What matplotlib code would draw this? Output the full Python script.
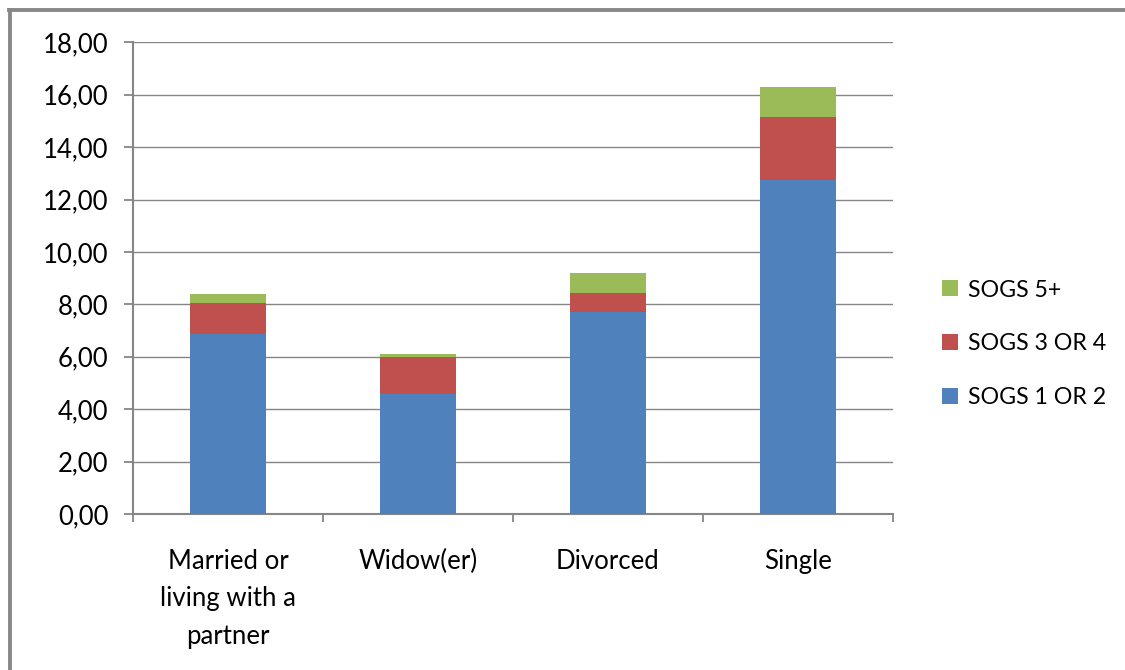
import matplotlib
matplotlib.use("Agg")
import matplotlib.pyplot as plt
from matplotlib.lines import Line2D
from matplotlib.patches import Patch
import numpy as np

categories = ["Married or\nliving with a\npartner", "Widow(er)", "Divorced", "Single"]
sogs_1_2 = [6.88, 4.59, 7.72, 12.76]
sogs_3_4 = [1.17, 1.41, 0.72, 2.39]
sogs_5p = [0.35, 0.11, 0.76, 1.15]
series_names = ["SOGS 1 OR 2", "SOGS 3 OR 4", "SOGS 5+"]
colors = ["#4F81BD", "#C0504D", "#9BBB59"]
yticks = [0, 2, 4, 6, 8, 10, 12, 14, 16, 18]

plt.rcParams['font.family'] = ['Lato', 'DejaVu Sans']
W, H = 1125, 670
fig = plt.figure(figsize=(W / 100, H / 100), dpi=100)
ax = fig.add_axes([133 / W, 1 - 514 / H, (893 - 133) / W, (514 - 42.4) / H])

x = np.arange(len(categories))
bottom = np.zeros(len(categories))
for vals, name, c in zip([sogs_1_2, sogs_3_4, sogs_5p], series_names, colors):
    ax.bar(x, vals, width=0.405, bottom=bottom, color=c, label=name, zorder=3)
    bottom += np.array(vals)

ax.set_xlim(-0.5, len(categories) - 0.5)
ax.set_ylim(0, 18)
ax.set_yticks(yticks)
ax.set_yticklabels([f"{v:.2f}".replace(".", ",") for v in yticks])
ax.yaxis.grid(True, color="#868686", linewidth=1.0, zorder=0)
ax.set_axisbelow(True)

ax.set_xticks(x)
ax.set_xticklabels(categories, linespacing=1.62, va="top")
ax.set_xticks(np.arange(-0.5, len(categories)), minor=True)
ax.tick_params(axis="x", which="major", length=0, pad=25, labelsize=18.5)
ax.tick_params(axis="x", which="minor", length=6, width=1.3, color="#868686")
ax.tick_params(axis="y", length=6.5, width=1.3, color="#868686", pad=11, labelsize=18.5)

for s in ["top", "right"]:
    ax.spines[s].set_visible(False)
for s in ["left", "bottom"]:
    ax.spines[s].set_color("#868686")
    ax.spines[s].set_linewidth(1.5)

handles = [Patch(facecolor=colors[i], edgecolor="none") for i in [2, 1, 0]]
labels = [series_names[i] for i in [2, 1, 0]]
fig.legend(handles, labels, loc="center left", bbox_to_anchor=(933 / W, 1 - 344 / H),
           frameon=False, fontsize=16.7, handlelength=0.68, handleheight=0.68,
           handletextpad=0.45, labelspacing=1.42, borderaxespad=0)

# outer frame (top and left edges visible)
fig.add_artist(Line2D([10 / W, 10 / W], [0, 1 - 9.5 / H], transform=fig.transFigure,
                      color="#888888", linewidth=2.8))
fig.add_artist(Line2D([8.5 / W, 1], [1 - 9.5 / H, 1 - 9.5 / H], transform=fig.transFigure,
                      color="#888888", linewidth=2.8))

fig.savefig("out.png", dpi=100)
